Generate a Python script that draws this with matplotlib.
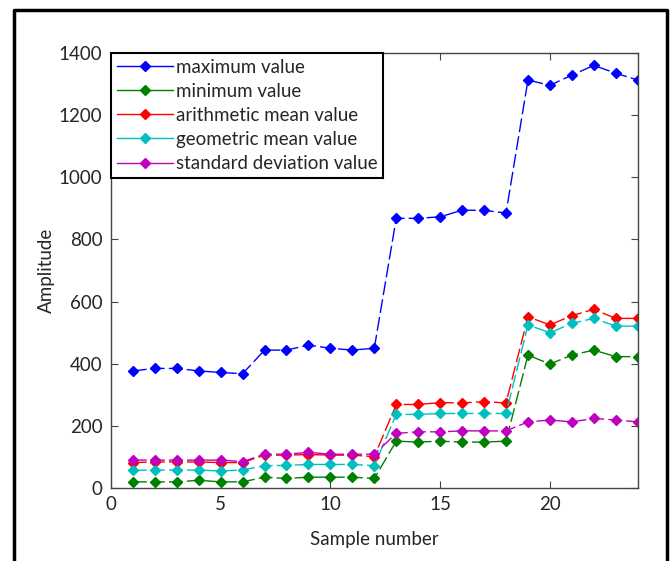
import matplotlib
matplotlib.use("Agg")
import matplotlib.pyplot as plt
from matplotlib.lines import Line2D

plt.rcParams["font.family"] = ["Lato", "DejaVu Sans"]

# sample index 1..24
samples = list(range(1, 25))

max_vals = [377, 385, 385, 377, 372, 368, 444, 444, 460, 450, 444, 450,
            868, 868, 873, 894, 894, 885, 1313, 1296, 1329, 1360, 1335, 1313]
min_vals = [20, 20, 20, 25, 20, 20, 35, 31, 35, 35, 35, 31,
            151, 148, 151, 148, 148, 151, 428, 399, 428, 444, 423, 423]
mean_vals = [82, 84, 84, 84, 82, 82, 106, 106, 108, 106, 106, 101,
             269, 269, 275, 274, 278, 274, 551, 525, 555, 575, 546, 546]
geo_vals = [57, 58, 58, 58, 55, 58, 72, 73, 76, 76, 76, 72,
            237, 237, 240, 240, 240, 240, 525, 500, 530, 546, 521, 521]
std_vals = [90, 90, 90, 90, 90, 85, 109, 109, 115, 109, 109, 109,
            176, 181, 181, 184, 184, 184, 213, 219, 213, 224, 219, 213]

labels = ["maximum value", "minimum value", "arithmetic mean value",
          "geometric mean value", "standard deviation value"]
colors = ["#0000ff", "#008000", "#ff0000", "#00bfbf", "#bf00bf"]

text_color = "#262626"

fig = plt.figure(figsize=(6.72, 5.61), dpi=100)
ax = fig.add_axes([0.165, 0.130, 0.784, 0.7755])

series = [max_vals, min_vals, mean_vals, geo_vals, std_vals]
for vals, lab, col in zip(series, labels, colors):
    ax.plot(samples, vals, color=col, linestyle=(0, (10, 3)), linewidth=1.0,
            marker="D", markersize=5.5, label=lab)

ax.set_xlim(0, 24)
ax.set_ylim(0, 1400)
ax.set_xticks([0, 5, 10, 15, 20])
ax.set_yticks(range(0, 1401, 200))
ax.tick_params(direction="in", length=5, width=0.8, top=True, right=True,
               labelsize=13.5, labelcolor=text_color, color="#444444", pad=6)
for sp in ax.spines.values():
    sp.set_color("#444444")
    sp.set_linewidth(1.0)

ax.set_xlabel("Sample number", fontsize=13.5, color=text_color, labelpad=13)
ax.set_ylabel("Amplitude", fontsize=13.5, color=text_color, labelpad=3)

leg = ax.legend(loc="upper left", borderaxespad=0, fancybox=False,
                edgecolor="black", fontsize=13.5, handlelength=3.0,
                handletextpad=0.15, labelspacing=0.38, borderpad=0.3,
                framealpha=1)
leg.get_frame().set_linewidth(1.5)
for t in leg.get_texts():
    t.set_color(text_color)
for h in leg.get_lines():
    h.set_linestyle("-")

# outer frame around the figure (open at the bottom)
frame_x = [14 / 672, 14 / 672, 667 / 672, 667 / 672]
frame_y = [0, 1 - 10 / 561, 1 - 10 / 561, 0]
fig.add_artist(Line2D(frame_x, frame_y, transform=fig.transFigure,
                      color="black", linewidth=2.5))

fig.savefig("out.png", dpi=100)
